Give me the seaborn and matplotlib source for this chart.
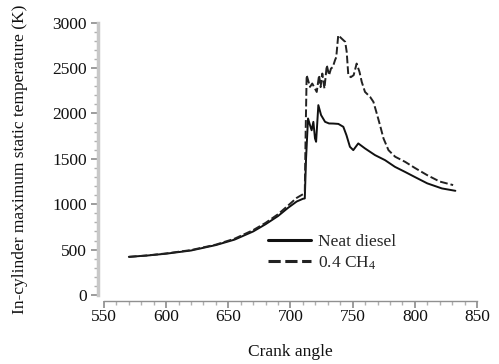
import numpy as np
import pandas as pd
import matplotlib
matplotlib.use("Agg")
import matplotlib.pyplot as plt
from matplotlib.ticker import MultipleLocator
import seaborn as sns

# ----------------- Data -----------------
neat_angle = [570, 585, 600, 620, 640, 655, 670, 680, 690, 698, 705, 710, 711.5,
              712.5, 714.1, 715.7, 717, 718.4, 719.7, 720.6, 722.4, 724.6, 727.8,
              731, 734.4, 738.5, 742.5, 745, 747.8, 750.5, 754.5, 759.9, 768,
              776, 784, 792, 800, 810, 821.8, 832.6]
neat_temp = [420, 435, 455, 490, 550, 610, 700, 780, 870, 960, 1030, 1060, 1064,
             1500, 1945, 1871, 1815, 1908, 1725, 1688, 2092, 1982, 1908,
             1890, 1889, 1885, 1853, 1761, 1633, 1596, 1670, 1615, 1541,
             1486, 1412, 1357, 1300, 1230, 1174, 1148]

ch4_angle = [570, 585, 600, 620, 640, 655, 670, 680, 690, 698, 705, 710, 711.5,
             712.2, 713, 715.7, 717.5, 721.1, 723, 724.2, 725.6, 727.3, 729.2,
             731, 732.6, 734, 735.8, 736.8, 738.4, 741.1, 744, 745.2, 746.5,
             748.5, 750.8, 753.2, 755.5, 757.3, 759.9, 764, 766.7, 769.4, 772,
             774.8, 778.8, 784.2, 792.2, 800, 810, 820, 830.8]
ch4_temp = [420, 436, 458, 495, 555, 620, 715, 795, 890, 985, 1070, 1110, 1137,
            1800, 2422, 2293, 2330, 2237, 2422, 2290, 2440, 2275, 2532,
            2422, 2496, 2510, 2587, 2620, 2862, 2826, 2789, 2679, 2422,
            2400, 2422, 2550, 2458, 2348, 2238, 2183, 2128, 1999, 1871,
            1725, 1596, 1523, 1467, 1400, 1320, 1250, 1211]

series_names = ["Neat diesel", "0.4 $\\mathregular{CH_4}$"]

df = pd.concat([
    pd.DataFrame({"angle": neat_angle, "temp": neat_temp, "fuel": series_names[0]}),
    pd.DataFrame({"angle": ch4_angle, "temp": ch4_temp, "fuel": series_names[1]}),
])

sns.set_theme(style="white")
plt.rcParams["font.family"] = "serif"
plt.rcParams["font.serif"] = ["Liberation Serif", "DejaVu Serif"]
plt.rcParams["mathtext.fontset"] = "custom"
plt.rcParams["mathtext.rm"] = "Liberation Serif"

fig = plt.figure(figsize=(4.99, 3.64), dpi=100)
ax = fig.add_axes([0.2084, 0.1896, 0.7475, 0.748])

sns.lineplot(data=df, x="angle", y="temp", hue="fuel", style="fuel",
             palette=["#111111", "#222222"], dashes=[(None, None), (4, 1.5)],
             linewidth=1.4, sort=False, estimator=None, ax=ax)

ax.set_xlim(550, 850)
ax.set_ylim(0, 3000)
ax.xaxis.set_major_locator(MultipleLocator(50))
ax.xaxis.set_minor_locator(MultipleLocator(10))
ax.yaxis.set_major_locator(MultipleLocator(500))
ax.yaxis.set_minor_locator(MultipleLocator(100))

for side in ["top", "right"]:
    ax.spines[side].set_visible(False)
ax.spines["left"].set_position(("outward", 4))
ax.spines["left"].set_color("#c8c8c8")
ax.spines["left"].set_linewidth(2.5)
ax.spines["bottom"].set_position(("outward", 4))
ax.spines["bottom"].set_color("#909090")
ax.spines["bottom"].set_linewidth(1.0)

ax.tick_params(axis="both", which="major", direction="out", length=5,
               color="#909090", labelsize=12.5, labelcolor="#111111")
ax.tick_params(axis="both", which="minor", direction="out", length=3,
               color="#b0b0b0")
ax.tick_params(axis="x", which="major", pad=1)
ax.tick_params(axis="y", which="both", left=True)
ax.tick_params(axis="x", which="both", bottom=True)

ax.set_xlabel("Crank angle", fontsize=12.5, color="#111111", labelpad=14)
ax.set_ylabel("In-cylinder maximum static temperature (K)", fontsize=12.5,
              color="#111111", labelpad=17)

leg = ax.legend(loc="upper left", bbox_to_anchor=(0.42, 0.25), frameon=False,
                fontsize=12.5, handlelength=2.5, handletextpad=0.4,
                labelspacing=0.25, borderaxespad=0)
for line in leg.get_lines():
    line.set_linewidth(2.2)

fig.savefig("out.png", dpi=100)
